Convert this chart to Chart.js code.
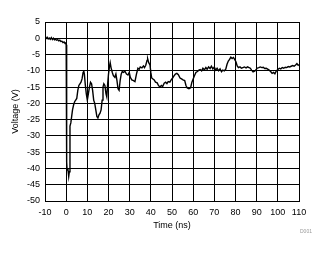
<!DOCTYPE html>
<html>
<head>
<meta charset="utf-8">
<script src="https://cdn.jsdelivr.net/npm/chart.js@4.4.1/dist/chart.umd.min.js"></script>
<style>
  html, body { margin: 0; padding: 0; background: #fff; }
  #wrap { position: relative; width: 328px; height: 254px; }
  #note { position: absolute; left: 300px; top: 228px; font: 5px "Liberation Sans", Arial, sans-serif; color: #999; }
</style>
</head>
<body>
<div id="wrap">
  <canvas id="waveChart" width="328" height="254"></canvas>
  <div id="note">D001</div>
</div>
<script>
const timeNs = [
  -10, -9.5, -9, -8.5, -8, -7.5, -7, -6.5, -6, -5.5, -5, -4.5, -4, -3.5, -3, -2.5, -2, -1.5, -1, -0.5, -0.2, 0,
  0.1, 0.25, 0.35, 0.45, 0.8, 1.2, 1.5, 1.8, 2.2, 2.6, 3.0, 3.5, 4.0, 4.5, 5.0, 5.5, 6.0, 6.5, 7.0, 7.5, 8.0, 8.3, 8.6,
  9.0, 9.5, 10.0, 10.5, 11.0, 11.5, 12.0, 12.5, 13.0, 13.5, 14.0, 14.5, 15.0, 15.5, 16.0, 16.5, 17.0, 17.4, 17.8,
  18.3, 18.8, 19.2, 19.6, 20.0, 20.5, 20.8, 21.2, 21.8, 22.3, 23.0, 23.5, 24.0, 24.5, 25.0, 25.5, 26.0, 26.5, 27.0,
  27.8, 28.5, 29.2, 29.8, 30.3, 31.0, 31.8, 32.5, 33.2, 33.9, 34.5, 35.0, 35.8, 36.5, 37.0, 37.6, 38.2, 38.5, 39.0,
  39.6, 40.0, 40.4, 41.0, 41.6, 42.2, 43.0, 43.6, 44.3, 45.0, 45.6, 46.3, 47.0, 47.6, 48.2, 49.0, 49.6, 50.3, 51.0,
  51.6, 52.3, 53.0, 53.8, 54.5, 55.2, 56.0, 56.6, 57.2, 58.0, 58.8, 59.4, 60.0, 60.6, 61.3, 62.0, 62.7, 63.3, 64.0,
  64.6, 65.3, 66.0, 66.6, 67.3, 68.0, 68.6, 69.3, 70.0, 70.6, 71.3, 72.0, 72.7, 73.4, 74.0, 74.7, 75.4, 76.0, 76.6,
  77.2, 77.8, 78.4, 79.0, 79.6, 80.2, 80.8, 81.4, 82.1, 82.8, 83.5, 84.2, 85.0, 85.7, 86.4, 87.0, 87.6, 88.3, 89.0,
  89.6, 90.2, 91.0, 91.7, 92.4, 93.1, 93.8, 94.5, 95.2, 95.9, 96.6, 97.3, 98.0, 98.6, 99.3, 100.0, 100.7, 101.4,
  102.1, 102.8, 103.5, 104.2, 104.9, 105.6, 106.3, 107.0, 107.7, 108.4, 109.0, 109.6, 110
];
const voltage = [
  0.2, -0.1, 0.3, -0.2, 0.1, -0.3, 0.2, -0.4, 0, -0.5, -0.3, -0.6, -0.4, -0.8, -0.6, -1.0, -0.9, -1.3, -1.1, -1.6, -1.2, -2.0,
  -2.5, -26, -38, -40.5, -40, -42.5, -41, -27, -26, -24, -22, -20.5, -19.5, -19, -18.5, -16, -14.5, -14, -13.5, -12.5, -10.5, -10, -11,
  -14, -17, -19, -17, -15, -13.5, -14, -16, -19, -20, -22, -24, -24.5, -23.5, -23, -22, -19, -15, -14,
  -14.5, -17, -18, -14, -11, -8.5, -7.5, -9, -10.5, -11.5, -12, -11, -13, -15.5, -16, -13, -11, -10.2, -10.5,
  -10.2, -11, -11.3, -10.5, -12, -12.8, -13, -13.3, -11, -9.2, -9.5, -8.8, -9.1, -8.5, -9.0, -8.3, -6.8, -6.3, -7.5,
  -8.2, -10.5, -12.2, -12.5, -12.8, -13.5, -13.7, -14.5, -15, -14.5, -14.8, -13.8, -13.5, -13.9, -13.3, -13.5, -12.8, -12.2, -11.5,
  -11, -10.8, -11.2, -12.2, -12.5, -12.8, -13, -14.5, -15.3, -15.5, -15.2, -13.5, -12.5, -11.5, -10.5, -10.2, -9.8, -9.6, -10,
  -9.2, -9.7, -9, -9.5, -8.8, -9.3, -8.6, -9.4, -8.8, -9.8, -9.2, -10, -9.4, -10.3, -9.8, -10, -9.5, -8, -7,
  -6.5, -5.8, -6.2, -5.9, -6.5, -7.2, -8.5, -9, -8.8, -9.2, -9, -8.8, -9.1, -8.8, -9, -9.2, -9.8, -10.3, -10.1,
  -9.8, -9.2, -9, -8.8, -9, -8.9, -9.3, -9.2, -9.5, -9.8, -10.2, -10.8, -10.5, -10.9, -10, -9.6, -9.2, -9.4,
  -9, -9.2, -8.9, -9, -8.7, -8.8, -8.6, -8.4, -8.6, -8.2, -7.8, -8.3, -8.1
];
const xTicks = { min: -10, max: 110, step: 10 };
const yTicks = { min: -50, max: 5, step: 5 };

const fontFamily = '"Liberation Sans", Arial, sans-serif';

const ctx = document.getElementById("waveChart").getContext("2d");
new Chart(ctx, {
  type: "line",
  data: {
    datasets: [
      {
        data: timeNs.map((t, i) => ({ x: t, y: voltage[i] })),
        borderColor: "#000",
        borderWidth: 1.4,
        pointRadius: 0,
        tension: 0,
        fill: false,
      },
    ],
  },
  options: {
    responsive: false,
    animation: false,
    layout: { padding: { left: 10, top: 22, right: 29, bottom: 0 } },
    plugins: {
      legend: { display: false },
      tooltip: { enabled: false },
    },
    scales: {
      x: {
        type: "linear",
        min: xTicks.min,
        max: xTicks.max,
        ticks: {
          stepSize: xTicks.step,
          color: "#000",
          padding: 6,
          maxRotation: 0,
          font: { family: fontFamily, size: 9 },
        },
        grid: { color: "#000", lineWidth: 1, drawTicks: false },
        border: { color: "#000", width: 1 },
        title: {
          display: true,
          text: "Time (ns)",
          color: "#000",
          font: { family: fontFamily, size: 9 },
          padding: { top: 0, bottom: 23 },
        },
        afterFit: (scale) => {
          scale.height = 53;
        },
      },
      y: {
        min: yTicks.min,
        max: yTicks.max,
        ticks: {
          stepSize: yTicks.step,
          color: "#000",
          padding: 5,
          font: { family: fontFamily, size: 9 },
        },
        grid: { color: "#000", lineWidth: 1, drawTicks: false },
        border: { color: "#000", width: 1 },
        title: {
          display: true,
          text: "Voltage (V)",
          color: "#000",
          font: { family: fontFamily, size: 9 },
          padding: 0,
        },
        afterFit: (scale) => {
          scale.width = 35;
        },
      },
    },
  },
});
</script>
</body>
</html>
